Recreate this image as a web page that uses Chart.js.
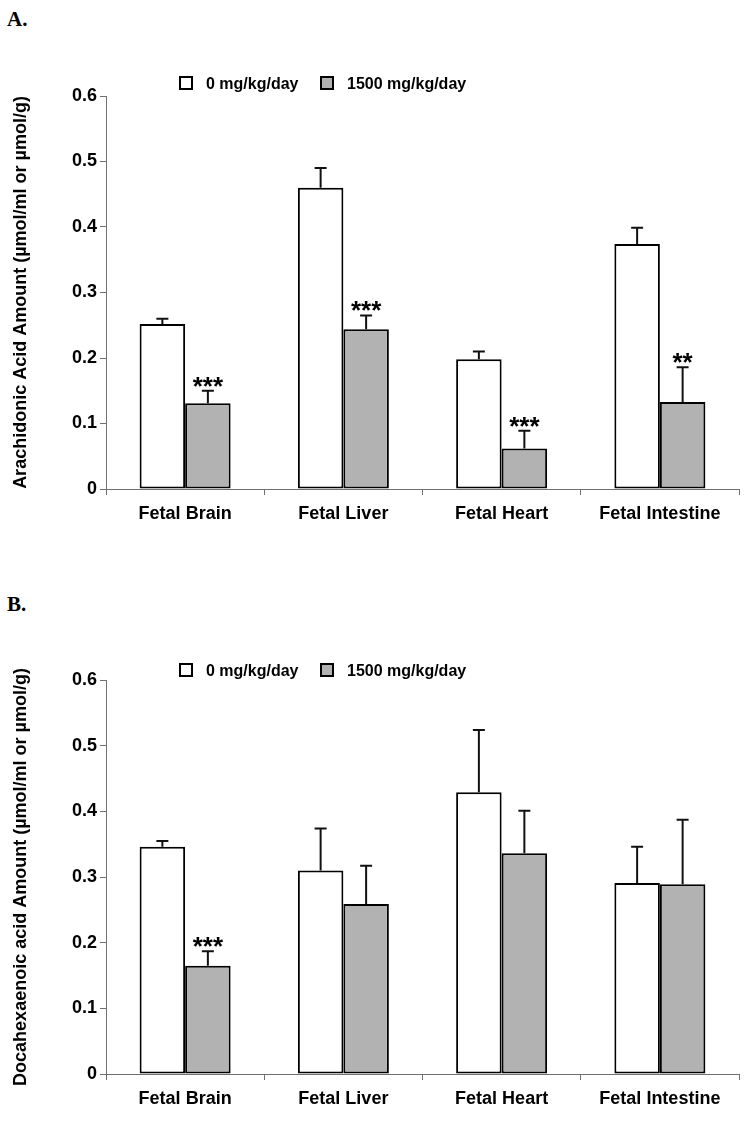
<!DOCTYPE html>
<html>
<head>
<meta charset="utf-8">
<script src="https://cdn.jsdelivr.net/npm/chart.js@4.4.0/dist/chart.umd.min.js"></script>
<style>
  body { margin: 0; background: #fff; }
  #page { position: relative; width: 750px; height: 1123px; }
  .panel { position: absolute; left: 0; width: 750px; }
  .tag { position: absolute; left: 7px; font: bold 21px "Liberation Serif", "Times New Roman", serif; color: #000; }
</style>
</head>
<body>
<div id="page">
  <div class="tag" style="top:7px">A.</div>
  <div class="panel" style="top:0; height:560px"><canvas id="chartA"></canvas></div>
  <div class="tag" style="top:592px">B.</div>
  <div class="panel" style="top:560px; height:563px"><canvas id="chartB"></canvas></div>
</div>
<script>
// categories and legend
var tissues = ["Fetal Brain", "Fetal Liver", "Fetal Heart", "Fetal Intestine"];
var doseLabels = ["0 mg/kg/day", "1500 mg/kg/day"];
var yTicks = [0, 0.1, 0.2, 0.3, 0.4, 0.5, 0.6];

// A. arachidonic acid
var araControl = [0.252, 0.460, 0.198, 0.374];
var araControlErr = [0.008, 0.030, 0.012, 0.025];
var araTreated = [0.131, 0.244, 0.062, 0.133];
var araTreatedErr = [0.019, 0.021, 0.027, 0.053];
var araSig = ["***", "***", "***", "**"];

// B. docosahexaenoic acid
var dhaControl = [0.346, 0.310, 0.429, 0.291];
var dhaControlErr = [0.009, 0.064, 0.095, 0.055];
var dhaTreated = [0.165, 0.259, 0.336, 0.289];
var dhaTreatedErr = [0.022, 0.058, 0.065, 0.098];
var dhaSig = ["***", "", "", ""];

var FONT = "'Liberation Sans', Arial, sans-serif";
var GRAY = '#b2b2b2';
var AXIS = '#707070';

// error bars (upward only) + significance stars
var errorBars = {
  id: 'errorBars',
  afterDatasetsDraw: function(chart) {
    var ctx = chart.ctx;
    var y = chart.scales.y;
    ctx.save();
    chart.data.datasets.forEach(function(ds, i) {
      var meta = chart.getDatasetMeta(i);
      meta.data.forEach(function(bar, j) {
        var top = y.getPixelForValue(ds.data[j]);
        var end = y.getPixelForValue(ds.data[j] + ds.err[j]);
        ctx.strokeStyle = '#111';
        ctx.lineWidth = 2;
        ctx.beginPath();
        ctx.moveTo(bar.x, top);
        ctx.lineTo(bar.x, end);
        ctx.moveTo(bar.x - 6, end);
        ctx.lineTo(bar.x + 6, end);
        ctx.stroke();
        if (ds.sig && ds.sig[j]) {
          ctx.font = 'bold 26px ' + FONT;
          ctx.fillStyle = '#000';
          ctx.textAlign = 'center';
          ctx.textBaseline = 'alphabetic';
          var m = ctx.measureText(ds.sig[j]);
          ctx.fillText(ds.sig[j], bar.x, end - 4 - m.actualBoundingBoxDescent);
        }
      });
    });
    ctx.restore();
  }
};

// legend drawn at a fixed spot like the original
var boxLegend = {
  id: 'boxLegend',
  afterDraw: function(chart, args, opts) {
    var ctx = chart.ctx;
    ctx.save();
    ctx.font = 'bold 16px ' + FONT;
    ctx.textBaseline = 'alphabetic';
    ctx.textAlign = 'left';
    var xs = [180, 321];
    chart.data.datasets.forEach(function(ds, i) {
      var x = xs[i], yy = opts.y;
      ctx.fillStyle = ds.backgroundColor;
      ctx.fillRect(x, yy, 12, 12);
      ctx.strokeStyle = '#000';
      ctx.lineWidth = 2;
      ctx.strokeRect(x, yy, 12, 12);
      ctx.fillStyle = '#000';
      ctx.fillText(ds.label, x + 26, yy + 12);
    });
    ctx.restore();
  }
};

function makeChart(id, control, controlErr, treated, treatedErr, sig, yTitle, pad, legendY) {
  return new Chart(document.getElementById(id), {
    type: 'bar',
    data: {
      labels: tissues,
      datasets: [{
        label: doseLabels[0],
        data: control,
        err: controlErr,
        backgroundColor: '#ffffff',
        borderColor: '#000',
        borderWidth: 2,
        borderSkipped: false
      }, {
        label: doseLabels[1],
        data: treated,
        err: treatedErr,
        sig: sig,
        backgroundColor: GRAY,
        borderColor: '#000',
        borderWidth: 2,
        borderSkipped: false
      }]
    },
    options: {
      responsive: true,
      maintainAspectRatio: false,
      animation: false,
      layout: { padding: pad },
      categoryPercentage: 0.575,
      barPercentage: 1.0,
      plugins: {
        legend: { display: false },
        tooltip: { enabled: false },
        boxLegend: { y: legendY }
      },
      scales: {
        x: {
          grid: { drawOnChartArea: false, tickLength: 6, color: AXIS, offset: true },
          border: { color: AXIS, width: 1 },
          ticks: { color: '#000', font: { family: FONT, size: 18, weight: 'bold' }, padding: 8, maxRotation: 0 },
          afterFit: function(s) { s.height = 40; }
        },
        y: {
          min: 0,
          max: 0.6,
          afterBuildTicks: function(s) { s.ticks = yTicks.map(function(v) { return { value: v }; }); },
          grid: { drawOnChartArea: false, tickLength: 6, color: AXIS },
          border: { color: AXIS, width: 1 },
          ticks: { color: '#000', font: { family: FONT, size: 18, weight: 'bold' }, padding: 3 },
          title: {
            display: true,
            text: yTitle,
            color: '#000',
            font: { family: FONT, size: 18, weight: 'bold' },
            padding: { top: 10, bottom: 0 }
          },
          afterFit: function(s) { s.width = 106; }
        }
      }
    },
    plugins: [errorBars, boxLegend]
  });
}

makeChart('chartA', araControl, araControlErr, araTreated, araTreatedErr, araSig,
  'Arachidonic Acid Amount (\u00b5mol/ml or \u00b5mol/g)',
  { top: 96, bottom: 31, left: 0, right: 11 }, 77);

makeChart('chartB', dhaControl, dhaControlErr, dhaTreated, dhaTreatedErr, dhaSig,
  'Docahexaenoic acid Amount (\u00b5mol/ml or \u00b5mol/g)',
  { top: 120, bottom: 9, left: 0, right: 11 }, 104);
</script>
</body>
</html>
